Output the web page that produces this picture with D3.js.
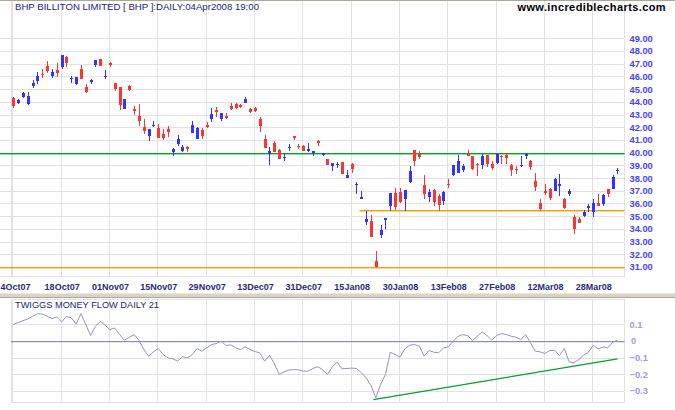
<!DOCTYPE html>
<html><head><meta charset="utf-8">
<script src="https://cdn.jsdelivr.net/npm/d3@7"></script>
<style>
html,body{margin:0;padding:0;background:#fff;}
svg{display:block;font-family:"Liberation Sans",Arial,sans-serif;}
</style></head><body>
<svg id="c" width="675" height="410"></svg>
<script>
// ---------- data ----------
const tickDays   = [0,10,20,30,40,50,60,70,80,90,100,110,120];
const tickLabels = ["4Oct07","18Oct07","01Nov07","15Nov07","29Nov07","13Dec07","31Dec07","15Jan08","30Jan08","13Feb08","27Feb08","12Mar08","28Mar08"];
const priceTicks = [31,32,33,34,35,36,37,38,39,40,41,42,43,44,45,46,47,48,49];
const tmfTicks   = [0.1,0,-0.1,-0.2,-0.3];

const opens = [44.29,43.87,44.40,43.80,45.26,45.65,46.22,46.83,46.04,46.51,
 46.77,47.53,45.83,45.39,46.59,45.18,45.57,46.90,47.35,45.99,
 47.06,45.46,45.14,43.42,45.24,43.47,42.87,42.03,41.32,42.13,
 41.95,41.50,41.84,40.05,40.71,40.13,40.45,41.55,41.10,41.76,
 42.16,42.68,43.37,42.63,42.87,43.66,43.82,43.74,43.92,43.47,
 43.55,42.68,41.05,39.87,40.79,40.18,39.61,40.39,41.29,40.55,
 40.50,40.16,39.97,40.89,39.82,39.48,38.96,39.03,39.24,38.02,
 39.09,37.52,36.43,34.52,34.63,31.47,33.48,34.70,35.80,36.84,
 36.90,36.35,37.70,40.23,39.87,37.44,36.53,37.05,36.58,36.22,
 37.57,38.23,38.41,38.62,39.92,39.74,39.14,39.01,39.79,39.14,
 39.19,39.74,39.79,39.06,38.75,38.93,39.74,39.32,37.76,36.06,
 36.97,37.13,37.00,37.39,36.35,36.71,34.91,34.78,35.02,35.67,
 35.30,36.06,35.96,37.10,37.10,38.54];
const highs = [44.40,44.19,44.81,44.74,45.70,46.36,46.59,47.22,46.59,47.06,
 47.72,47.61,46.07,45.96,46.90,45.42,45.83,47.27,47.35,46.51,
 47.16,45.50,45.19,44.26,45.30,43.68,43.82,42.63,41.84,42.47,
 42.24,41.84,42.10,40.37,41.37,40.58,40.53,42.47,42.03,41.95,
 42.42,43.55,43.61,43.16,43.16,43.87,43.89,43.82,44.37,43.53,
 43.61,42.82,41.37,40.45,40.89,40.26,40.00,40.66,41.29,40.68,
 40.63,40.76,40.10,41.00,40.00,39.48,39.17,39.24,39.24,38.62,
 39.19,37.70,37.00,35.41,35.10,32.28,34.31,34.86,36.84,37.19,
 37.25,37.05,38.93,40.23,40.10,38.23,37.10,37.10,36.74,36.97,
 37.91,39.01,39.79,39.14,40.18,39.74,39.20,39.87,39.79,39.35,
 40.00,39.78,40.00,39.10,38.93,39.74,40.00,39.40,38.41,36.35,
 37.52,37.18,38.04,38.30,36.40,37.13,35.10,34.96,35.49,35.96,
 36.32,36.74,36.74,37.10,38.23,38.83];
const lows = [43.48,43.82,44.34,43.72,45.05,45.44,45.91,46.25,45.91,45.99,
 46.62,46.75,45.52,45.31,45.83,44.66,45.39,46.77,46.85,45.83,
 46.77,44.87,43.35,43.42,44.85,42.95,42.11,41.50,40.92,42.00,
 41.16,40.97,41.24,39.74,40.53,40.05,40.05,41.55,41.10,41.10,
 41.95,42.42,42.82,42.50,42.68,43.34,43.47,43.55,43.87,43.16,
 43.21,41.63,40.37,39.00,40.05,39.47,39.32,40.13,41.00,40.32,
 40.13,40.05,39.74,40.55,39.74,39.01,38.57,38.83,38.33,38.02,
 38.41,36.71,36.37,34.34,33.35,31.00,33.32,34.00,35.43,35.48,
 36.05,35.43,37.63,38.96,39.48,36.35,36.14,35.83,35.43,35.88,
 37.23,38.17,38.36,38.49,39.74,38.67,38.17,38.75,38.88,38.67,
 39.09,39.09,39.09,38.17,38.33,38.88,39.48,38.62,37.00,35.43,
 36.66,36.27,37.00,36.61,35.56,36.58,33.58,34.44,34.96,35.36,
 34.96,35.80,35.80,36.53,37.10,38.30];
const closes = [43.69,44.11,44.66,44.42,45.52,46.04,46.12,46.43,46.36,46.28,
 47.69,47.09,45.91,45.96,45.83,44.74,45.75,47.27,46.85,46.07,
 46.90,44.98,43.75,44.21,44.93,43.29,42.47,41.68,41.84,42.21,
 41.16,41.16,41.63,40.26,41.05,40.45,40.32,42.16,41.97,41.29,
 42.00,43.03,43.21,43.11,42.74,43.42,43.53,43.61,44.21,43.21,
 43.26,42.11,40.37,40.13,40.05,39.53,39.68,40.47,41.16,40.47,
 40.13,40.26,40.10,40.78,40.00,39.01,39.17,39.09,38.33,38.23,
 38.72,37.57,36.48,34.78,33.35,31.00,33.92,34.86,36.84,35.74,
 36.10,37.05,38.54,39.35,39.66,36.71,36.87,36.11,35.90,36.87,
 37.42,39.01,39.32,38.93,39.74,38.75,39.06,39.74,39.09,38.83,
 39.87,39.66,39.58,38.67,38.70,39.01,39.87,38.88,37.31,35.56,
 36.84,36.45,37.91,37.52,35.62,37.00,33.97,34.44,35.30,35.80,
 36.01,35.80,36.66,36.74,38.10,38.62];
const tmf = [0.098,0.110,0.122,0.132,0.148,0.164,0.162,0.148,0.134,0.144,
 0.114,0.148,0.138,0.102,0.164,0.098,0.032,0.088,0.118,0.094,
 0.068,0.078,0.038,0.004,0.022,0.038,0.004,-0.052,-0.092,-0.066,
 -0.046,-0.082,-0.102,-0.108,-0.122,-0.096,-0.102,-0.084,-0.046,-0.062,
 -0.042,-0.022,-0.016,-0.002,-0.028,-0.024,-0.042,-0.052,-0.036,-0.052,
 -0.064,-0.072,-0.122,-0.088,-0.136,-0.202,-0.186,-0.176,-0.172,-0.174,
 -0.182,-0.182,-0.166,-0.156,-0.172,-0.202,-0.156,-0.128,-0.168,-0.166,
 -0.164,-0.166,-0.192,-0.222,-0.268,-0.342,-0.262,-0.202,-0.068,-0.082,
 -0.098,-0.048,-0.026,-0.022,-0.032,-0.092,-0.058,-0.068,-0.072,-0.042,
 -0.036,-0.002,0.028,0.038,0.032,0.002,0.028,0.054,0.032,0.004,
 0.032,0.044,0.038,0.028,0.022,0.008,0.038,-0.012,-0.062,-0.066,
 -0.076,-0.058,-0.058,-0.088,-0.046,-0.126,-0.132,-0.112,-0.086,-0.068,
 -0.026,-0.048,-0.036,-0.042,-0.008,0.004];

const resistanceLevel = 40.0;
const supportLevel = 35.5, supportStartDay = 71.6;
const lowLevel = 31.0;
const tmfTrendDays = [74.5,125];
const tmfTrendVals = [-0.354,-0.108];

const titleText = "BHP BILLITON LIMITED [ BHP ]:DAILY:04Apr2008 19:00";
const siteText = "www.incrediblecharts.com";
const tmfTitle = "TWIGGS MONEY FLOW DAILY 21";

// ---------- layout ----------
const svg = d3.select("#c");
const plotL = 11, plotR = 624.5;
const priceBot = 276.5;
const tmfTop = 299.5, tmfBot = 402.5;

const x = d3.scaleLinear().domain([0,120]).range([13.3,593.3]);
const y = d3.scaleLinear().domain([31,49]).range([267,38.3]);
const yt = d3.scaleLinear().domain([-0.3,0.1]).range([390.7,324.3]);

const grid = "#e2e2e2";
const red = "#ff3333", blue = "#3333ff";
const green = "#00a22a", orange = "#ff9a00";

// top border
svg.append("rect").attr("x",0).attr("y",0).attr("width",675).attr("height",1).attr("fill","#aca899");

// price panel grid
const gp = svg.append("g").attr("shape-rendering","crispEdges");
gp.selectAll(".hg").data(priceTicks).join("line")
  .attr("x1",0).attr("x2",plotR)
  .attr("y1",d=>Math.round(y(d))+0.5).attr("y2",d=>Math.round(y(d))+0.5)
  .attr("stroke",grid);
gp.selectAll(".vg").data(tickDays).join("line")
  .attr("x1",d=>Math.round(x(d))-0.5).attr("x2",d=>Math.round(x(d))-0.5)
  .attr("y1",1).attr("y2",priceBot)
  .attr("stroke",grid).attr("stroke-width",1.5);
gp.append("line").attr("x1",plotL+0.5).attr("x2",plotL+0.5).attr("y1",1).attr("y2",priceBot).attr("stroke",grid);
gp.append("line").attr("x1",plotR).attr("x2",plotR).attr("y1",1).attr("y2",priceBot).attr("stroke",grid).attr("stroke-width",1.5);
gp.append("line").attr("x1",0).attr("x2",plotR).attr("y1",priceBot).attr("y2",priceBot).attr("stroke",grid);

// horizontal trend lines (drawn as 1px-high rects for crisp colour)
const levelLines = [
  {level:resistanceLevel, from:null, color:green},
  {level:supportLevel, from:supportStartDay, color:orange},
  {level:lowLevel, from:null, color:orange}
];
svg.append("g").selectAll("rect").data(levelLines).join("rect")
  .attr("x",d=>d.from===null?0:x(d.from))
  .attr("width",d=>plotR-(d.from===null?0:x(d.from)))
  .attr("y",d=>Math.round(y(d.level)))
  .attr("height",1.4)
  .style("fill",d=>d.color);

// candles
const candles = opens.map((o,i)=>({i,o,h:highs[i],l:lows[i],c:closes[i]}));
const gc = svg.append("g").attr("shape-rendering","crispEdges");
const cg = gc.selectAll("g").data(candles).join("g");
cg.append("line")
  .attr("x1",d=>Math.round(x(d.i))+0.5).attr("x2",d=>Math.round(x(d.i))+0.5)
  .attr("y1",d=>y(d.h)).attr("y2",d=>y(d.l))
  .attr("stroke",d=>d.c>=d.o?blue:red).attr("stroke-width",1);
cg.append("rect")
  .attr("x",d=>Math.round(x(d.i))-1).attr("width",3)
  .attr("y",d=>y(Math.max(d.o,d.c)))
  .attr("height",d=>Math.max(1.2,Math.abs(y(d.o)-y(d.c))))
  .attr("fill",d=>d.c>=d.o?blue:red);

// axes
const yAxis = d3.axisRight(y).tickValues(priceTicks).tickFormat(d3.format(".2f")).tickSize(0).tickPadding(0);
const ya = svg.append("g").attr("transform","translate(629.5,0)").call(yAxis);
ya.select(".domain").remove();
ya.selectAll(".tick line").remove();
ya.selectAll("text").attr("fill","#4444ff").attr("font-size","9.3px").attr("font-weight","bold")
  .attr("font-family","'Liberation Sans',Arial,sans-serif");

const xAxis = d3.axisBottom(x).tickValues(tickDays).tickFormat((d,i)=>tickLabels[i]).tickSize(0).tickPadding(0);
const xa = svg.append("g").attr("transform","translate(0,283.8)").call(xAxis);
xa.select(".domain").remove();
xa.selectAll(".tick line").remove();
xa.selectAll("text").attr("fill","#2a2a80").attr("font-size","9px").attr("font-weight","bold")
  .attr("font-family","'Liberation Sans',Arial,sans-serif");
xa.selectAll(".tick").filter(d=>d===tickDays[0]).select("text")
  .attr("text-anchor","start").attr("x",-x(tickDays[0]));

// titles
svg.append("text").attr("x",15).attr("y",9.8).attr("fill","#1c1c7c")
  .attr("font-size","9.5px").attr("textLength",244).attr("lengthAdjust","spacingAndGlyphs").text(titleText);
svg.append("text").attr("x",666).attr("y",10.8).attr("text-anchor","end").attr("fill","#000")
  .attr("font-size","11px").attr("font-weight","bold").attr("letter-spacing","0.4px").text(siteText);

// separator band
svg.append("rect").attr("x",0).attr("y",293).attr("width",675).attr("height",4).attr("fill","#d8d4c8");
svg.append("rect").attr("x",0).attr("y",293).attr("width",675).attr("height",1).attr("fill","#ece9d8");
svg.append("rect").attr("x",0).attr("y",297).attr("width",675).attr("height",1).attr("fill","#aca899");

// TMF panel
const gt = svg.append("g").attr("shape-rendering","crispEdges");
gt.selectAll(".th").data(tmfTicks.filter(d=>d!==0)).join("line")
  .attr("x1",plotL).attr("x2",plotR)
  .attr("y1",d=>Math.round(yt(d))+0.5).attr("y2",d=>Math.round(yt(d))+0.5)
  .attr("stroke",grid);
gt.selectAll(".tv").data(tickDays).join("line")
  .attr("x1",d=>Math.round(x(d))-0.5).attr("x2",d=>Math.round(x(d))-0.5)
  .attr("y1",tmfTop).attr("y2",tmfBot)
  .attr("stroke",grid).attr("stroke-width",1.5);
gt.append("line").attr("x1",plotL+0.5).attr("x2",plotL+0.5).attr("y1",tmfTop).attr("y2",tmfBot).attr("stroke",grid);
gt.append("line").attr("x1",plotR).attr("x2",plotR).attr("y1",tmfTop).attr("y2",tmfBot).attr("stroke",grid).attr("stroke-width",1.5);
gt.append("line").attr("x1",plotL).attr("x2",plotR).attr("y1",tmfTop).attr("y2",tmfTop).attr("stroke",grid);
gt.append("line").attr("x1",plotL).attr("x2",plotR).attr("y1",tmfBot).attr("y2",tmfBot).attr("stroke",grid);
svg.append("rect").attr("x",plotL).attr("width",plotR-plotL)
  .attr("y",Math.round(yt(0))).attr("height",1.2).style("fill","#8a8ac6");

svg.append("path").datum(tmf)
  .attr("d",d3.line().x((d,i)=>x(i)).y(d=>yt(d)))
  .attr("fill","none").attr("stroke","#9292d2").attr("stroke-width",1);

svg.append("line")
  .attr("x1",x(tmfTrendDays[0])).attr("y1",yt(tmfTrendVals[0]))
  .attr("x2",x(tmfTrendDays[1])).attr("y2",yt(tmfTrendVals[1]))
  .attr("stroke",green).attr("stroke-width",1.3);

const tAxis = d3.axisRight(yt).tickValues(tmfTicks).tickFormat(d=>d===0?"0":d3.format(".1f")(d)).tickSize(0).tickPadding(0);
const ta = svg.append("g").attr("transform","translate(629.5,0)").call(tAxis);
ta.select(".domain").remove();
ta.selectAll(".tick line").remove();
ta.selectAll("text").attr("fill","#9c9cdc").attr("font-size","9.3px").attr("font-weight","bold")
  .attr("font-family","'Liberation Sans',Arial,sans-serif");
ta.selectAll(".tick").filter(d=>d===0).select("text").attr("dx","1.5");

svg.append("text").attr("x",15).attr("y",307.8).attr("fill","#1c1c7c")
  .attr("font-size","9.2px").attr("textLength",144).attr("lengthAdjust","spacingAndGlyphs").text(tmfTitle);
</script>
</body></html>
